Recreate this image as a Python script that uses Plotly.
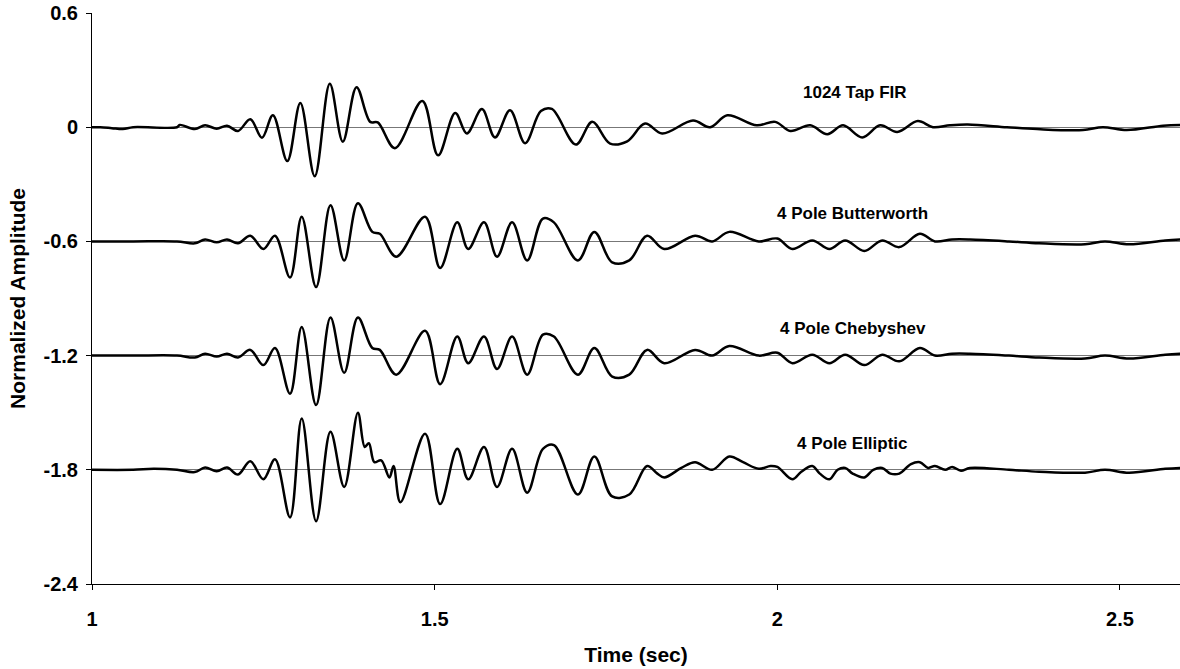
import plotly.graph_objects as go

# ---- data (time in s, amplitude relative to each trace's baseline) ----
series_names = ["1024 Tap FIR", "4 Pole Butterworth", "4 Pole Chebyshev", "4 Pole Elliptic"]
offsets = [0.0, -0.6, -1.2, -1.8]

fir_t = [1.000, 1.012, 1.029, 1.045, 1.060, 1.124, 1.128, 1.150, 1.165, 1.182, 1.197, 1.213,
         1.231, 1.248, 1.264, 1.285, 1.304, 1.325, 1.347, 1.366, 1.386, 1.406, 1.417, 1.442,
         1.482, 1.505, 1.530, 1.547, 1.569, 1.588, 1.610, 1.632, 1.655, 1.671, 1.706, 1.730,
         1.756, 1.781, 1.807, 1.832, 1.877, 1.902, 1.927, 1.970, 1.997, 2.019, 2.048, 2.073,
         2.096, 2.124, 2.150, 2.175, 2.205, 2.227, 2.252, 2.278, 2.335, 2.379, 2.446, 2.475,
         2.510, 2.563, 2.588]
fir_v = [0.0, 0.0, -0.005, -0.01, 0.0, 0.0, 0.012, -0.01, 0.01, -0.008, 0.008, -0.02,
         0.042, -0.055, 0.063, -0.178, 0.127, -0.258, 0.228, -0.076, 0.21, 0.028, 0.025, -0.11,
         0.138, -0.148, 0.075, -0.033, 0.095, -0.054, 0.089, -0.084, 0.085, 0.096, -0.091, 0.028,
         -0.086, -0.074, 0.019, -0.033, 0.035, 0.0, 0.063, 0.01, 0.028, -0.02, 0.01, -0.037,
         0.01, -0.054, 0.01, -0.025, 0.032, 0.0, 0.01, 0.014, 0.0, -0.01, -0.015, 0.0,
         -0.015, 0.008, 0.012]

but_t = [1.000, 1.060, 1.124, 1.150, 1.165, 1.182, 1.197, 1.213, 1.231, 1.250, 1.267, 1.289,
         1.306, 1.327, 1.348, 1.368, 1.388, 1.409, 1.420, 1.444, 1.486, 1.508, 1.533, 1.549,
         1.572, 1.591, 1.613, 1.635, 1.658, 1.674, 1.709, 1.733, 1.759, 1.784, 1.810, 1.835,
         1.880, 1.905, 1.930, 1.973, 2.000, 2.022, 2.051, 2.076, 2.099, 2.127, 2.153, 2.178,
         2.208, 2.230, 2.255, 2.281, 2.338, 2.382, 2.449, 2.478, 2.513, 2.566, 2.588]
but_v = [0.0, 0.0, 0.0, -0.01, 0.01, -0.005, 0.01, -0.01, 0.03, -0.04, 0.03, -0.19,
         0.13, -0.24, 0.19, -0.1, 0.2, 0.05, 0.04, -0.08, 0.13, -0.14, 0.1, -0.04,
         0.1, -0.08, 0.1, -0.1, 0.12, 0.1, -0.1, 0.05, -0.11, -0.1, 0.03, -0.04,
         0.03, 0.0, 0.05, 0.0, 0.015, -0.04, 0.005, -0.04, 0.005, -0.05, 0.005, -0.03,
         0.04, 0.0, 0.01, 0.01, 0.0, -0.01, -0.015, 0.0, -0.015, 0.005, 0.01]

che_t = but_t
che_v = [0.0, 0.0, 0.0, -0.01, 0.01, -0.005, 0.01, -0.01, 0.03, -0.05, 0.04, -0.2,
         0.15, -0.26, 0.2, -0.09, 0.2, 0.04, 0.03, -0.1, 0.13, -0.15, 0.1, -0.04,
         0.1, -0.07, 0.1, -0.1, 0.11, 0.1, -0.1, 0.04, -0.11, -0.1, 0.03, -0.04,
         0.03, 0.0, 0.05, 0.0, 0.015, -0.04, 0.005, -0.04, 0.005, -0.05, 0.005, -0.03,
         0.04, 0.0, 0.01, 0.01, 0.0, -0.01, -0.015, 0.0, -0.015, 0.005, 0.01]

ell_t = [1.000, 1.060, 1.090, 1.124, 1.150, 1.165, 1.182, 1.197, 1.213, 1.231, 1.250, 1.267,
         1.289, 1.306, 1.327, 1.348, 1.368, 1.388, 1.398, 1.404, 1.412, 1.422, 1.434, 1.440,
         1.450, 1.486, 1.508, 1.533, 1.549, 1.572, 1.591, 1.613, 1.635, 1.658, 1.674, 1.709,
         1.733, 1.759, 1.784, 1.810, 1.825, 1.835, 1.860, 1.880, 1.905, 1.930, 1.950, 1.973,
         1.990, 2.000, 2.022, 2.035, 2.051, 2.062, 2.076, 2.088, 2.099, 2.110, 2.127, 2.140,
         2.153, 2.165, 2.178, 2.195, 2.208, 2.220, 2.230, 2.245, 2.255, 2.268, 2.281, 2.338,
         2.382, 2.449, 2.478, 2.513, 2.566, 2.588]
ell_v = [0.0, 0.0, 0.005, 0.0, -0.012, 0.012, -0.008, 0.012, -0.025, 0.045, -0.05, 0.055,
         -0.25, 0.27, -0.27, 0.2, -0.09, 0.3, 0.12, 0.14, 0.04, 0.05, -0.04, 0.02,
         -0.17, 0.19, -0.18, 0.11, -0.05, 0.12, -0.09, 0.11, -0.12, 0.11, 0.13, -0.13,
         0.07, -0.14, -0.13, 0.02, -0.02, -0.04, 0.01, 0.04, 0.0, 0.07, 0.04, 0.005,
         0.02, 0.015, -0.05, -0.01, 0.02, -0.02, -0.05, 0.0, 0.01, -0.02, -0.04, 0.0,
         0.01, -0.02, -0.02, 0.03, 0.04, 0.01, 0.02, 0.0, 0.015, -0.005, 0.01, 0.0,
         -0.01, -0.015, 0.0, -0.015, 0.005, 0.01]

label_t = [2.113, 2.110, 2.110, 2.110]
label_y = [0.18, 0.145, 0.145, 0.14]

y_ticks = [0.6, 0.0, -0.6, -1.2, -1.8, -2.4]
y_tick_text = ["0.6", "0", "-0.6", "-1.2", "-1.8", "-2.4"]
x_ticks = [1, 1.5, 2, 2.5]
x_tick_text = ["1", "1.5", "2", "2.5"]

all_t = [fir_t, but_t, che_t, ell_t]
all_v = [fir_v, but_v, che_v, ell_v]

FONT = "Liberation Sans, Arial, sans-serif"

fig = go.Figure()
for name, off, ts, vs in zip(series_names, offsets, all_t, all_v):
    fig.add_trace(go.Scatter(
        x=ts, y=[v + off for v in vs], mode="lines", name=name,
        line=dict(color="black", width=2.5, shape="spline", smoothing=1.0),
        showlegend=False, hoverinfo="skip"))

for name, off, lt, ly in zip(series_names, offsets, label_t, label_y):
    fig.add_annotation(x=lt, y=ly + off, text="<b>" + name + "</b>", showarrow=False,
                       font=dict(family=FONT, size=17, color="black"),
                       xanchor="center", yanchor="middle")

fig.update_layout(
    width=1180, height=669,
    margin=dict(l=92, r=0, t=13, b=85),
    paper_bgcolor="white", plot_bgcolor="white",
    font=dict(family=FONT, color="black"),
)
fig.update_xaxes(
    range=[1, 2.5876], tickvals=x_ticks, ticktext=["<b>" + s + "</b>" for s in x_tick_text],
    showgrid=False, zeroline=False, showline=True, linecolor="black", linewidth=1,
    ticks="outside", ticklen=5, tickcolor="black",
    tickfont=dict(size=20, family=FONT),
    ticklabelstandoff=12,
    title=dict(text="<b>Time (sec)</b>", font=dict(size=21, family=FONT), standoff=18),
)
fig.update_yaxes(
    range=[-2.4, 0.6], tickvals=y_ticks, ticktext=["<b>" + s + "</b>" for s in y_tick_text],
    showgrid=True, gridcolor="#777777", gridwidth=1, zeroline=False,
    showline=True, linecolor="black", linewidth=1,
    ticks="outside", ticklen=5, tickcolor="black",
    tickfont=dict(size=20, family=FONT),
    ticklabelstandoff=4,
    title=dict(text="<b>Normalized Amplitude</b>", font=dict(size=21, family=FONT), standoff=12),
)

fig.write_html("out.html")
